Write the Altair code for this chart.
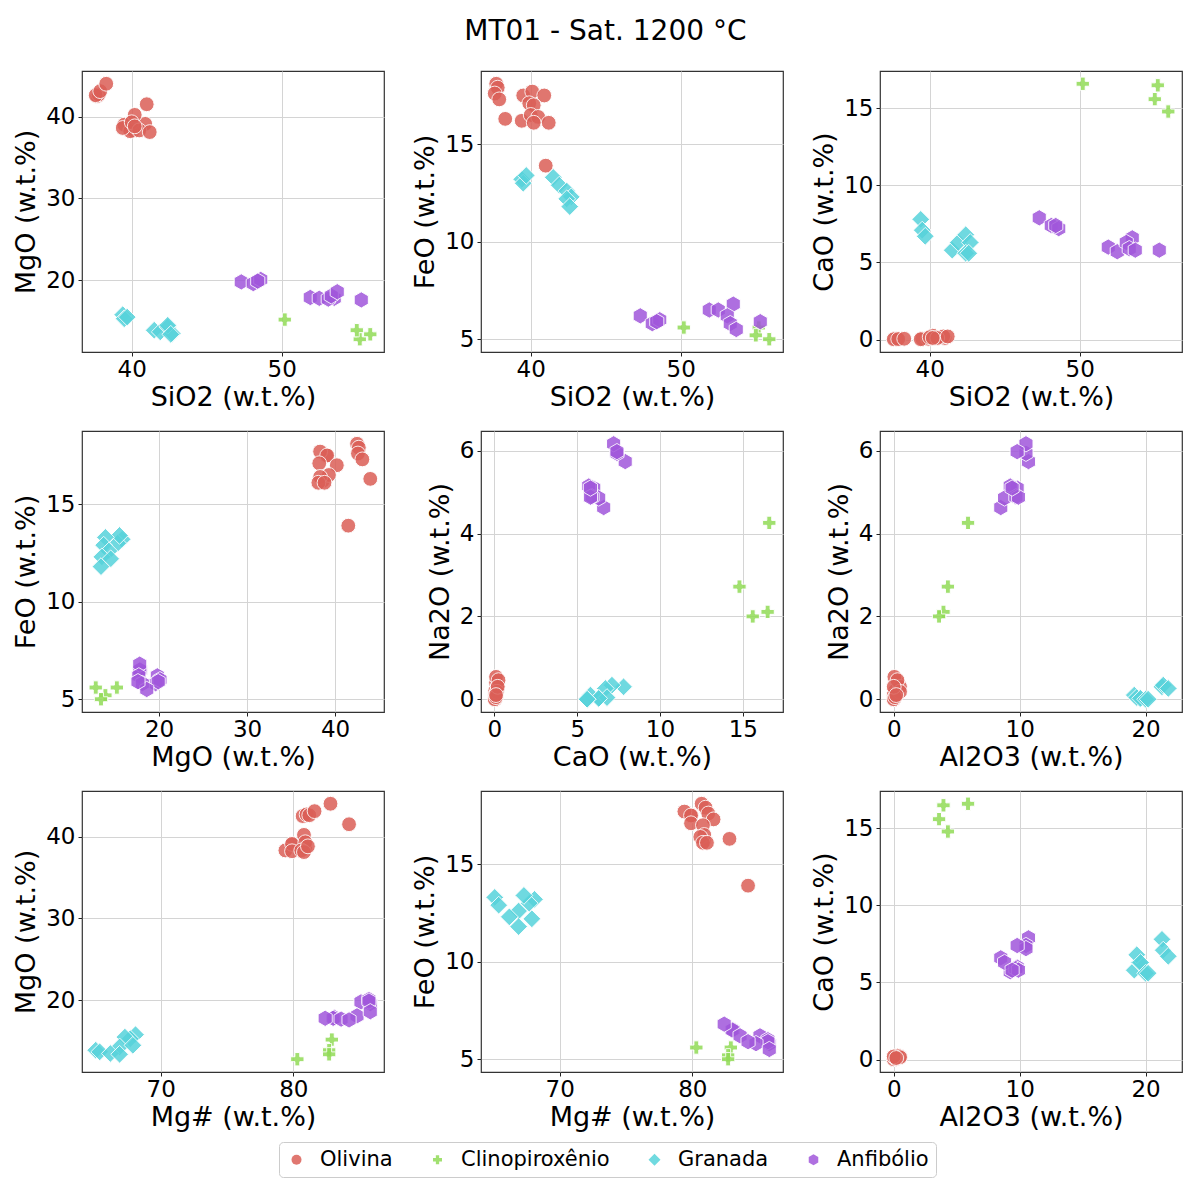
import altair as alt
import pandas as pd

minerals = ["Olivina", "Clinopiroxênio", "Granada", "Anfibólio"]
colors = ["#db5f57", "#91db57", "#57d3db", "#a157db"]

# ---- Olivina ----
ol_SiO2 = [37.7, 37.8, 37.6, 37.9, 38.3, 41.0, 39.5, 40.1, 40.9, 39.9, 40.2, 39.4, 40.0, 40.5, 41.2, 40.2]
ol_MgO = [42.5, 42.7, 42.6, 43.1, 44.0, 41.5, 39.0, 38.3, 39.1, 38.2, 40.2, 38.6, 39.3, 38.3, 38.1, 38.8]
ol_FeO = [18.1, 17.9, 17.6, 17.3, 16.3, 13.9, 17.5, 17.7, 17.5, 17.1, 17.0, 16.2, 16.5, 16.4, 16.1, 16.1]
ol_CaO = [0.05, 0.05, 0.02, 0.03, 0.05, 0.10, 0.05, 0.10, 0.20, 0.05, 0.25, 0.02, 0.15, 0.10, 0.20, 0.10]
ol_Na2O = [0.0, 0.10, 0.02, 0.05, 0.15, 0.40, 0.20, 0.54, 0.30, 0.10, 0.46, 0.0, 0.18, 0.05, 0.30, 0.10]
ol_Al2O3 = [0.0, 0.05, 0.0, 0.02, 0.10, 0.30, 0.10, 0.05, 0.50, 0.0, 0.30, 0.0, 0.50, 0.10, 0.0, 0.20]
ol_MgNum = [80.7, 81.0, 81.2, 81.6, 82.8, 84.2, 79.9, 79.4, 79.9, 79.9, 80.8, 80.9, 80.9, 80.6, 80.8, 81.1]

# ---- Clinopiroxênio ----
cpx_SiO2 = [50.2, 55.2, 55.0, 55.9]
cpx_MgO = [15.2, 12.8, 13.9, 13.4]
cpx_FeO = [5.6, 5.6, 5.2, 5.0]
cpx_CaO = [16.6, 16.5, 15.6, 14.8]
cpx_Na2O = [4.26, 2.11, 2.0, 2.72]
cpx_Al2O3 = [5.9, 3.95, 3.6, 4.3]
cpx_MgNum = [82.9, 80.3, 82.7, 82.7]

# ---- Granada ----
grt_SiO2 = [39.4, 39.5, 39.7, 41.5, 41.9, 42.4, 42.7, 42.4, 42.6]
grt_MgO = [15.8, 15.3, 15.5, 13.9, 13.7, 14.3, 13.5, 14.5, 13.4]
grt_FeO = [13.2, 13.0, 13.4, 13.3, 12.9, 12.6, 12.3, 12.2, 11.8]
grt_CaO = [7.8, 7.1, 6.7, 5.8, 6.3, 6.8, 6.3, 5.6, 5.6]
grt_Na2O = [0.30, 0.34, 0.26, 0.10, 0.02, 0.04, 0.02, 0.0, 0.0]
grt_Al2O3 = [21.3, 21.4, 21.8, 19.1, 19.5, 19.3, 19.6, 20.0, 20.2]
grt_MgNum = [68.1, 67.7, 67.3, 65.1, 65.4, 66.9, 66.2, 67.9, 66.9]

# ---- Anfibólio ----
amp_SiO2 = [47.3, 48.1, 48.6, 48.4, 51.9, 52.5, 53.5, 53.1, 53.3, 53.7, 55.3]
amp_MgO = [19.8, 19.6, 20.1, 19.9, 17.9, 17.8, 17.8, 17.7, 18.1, 18.6, 17.6]
amp_FeO = [6.2, 5.8, 6.0, 5.9, 6.5, 6.5, 6.8, 6.2, 5.8, 5.5, 5.9]
amp_CaO = [7.9, 7.4, 7.2, 7.4, 6.0, 5.7, 6.6, 6.3, 5.9, 5.8, 5.8]
amp_Na2O = [5.74, 5.94, 6.17, 5.98, 5.10, 5.15, 4.63, 4.86, 4.89, 4.88, 5.10]
amp_Al2O3 = [10.7, 10.5, 10.5, 9.8, 9.8, 9.25, 8.5, 8.8, 9.7, 9.9, 9.4]
amp_MgNum = [85.1, 85.8, 85.7, 85.7, 83.1, 83.0, 82.4, 83.6, 84.8, 85.8, 84.2]

groups = [
    ("Olivina", ol_SiO2, ol_MgO, ol_FeO, ol_CaO, ol_Na2O, ol_Al2O3, ol_MgNum),
    ("Clinopiroxênio", cpx_SiO2, cpx_MgO, cpx_FeO, cpx_CaO, cpx_Na2O, cpx_Al2O3, cpx_MgNum),
    ("Granada", grt_SiO2, grt_MgO, grt_FeO, grt_CaO, grt_Na2O, grt_Al2O3, grt_MgNum),
    ("Anfibólio", amp_SiO2, amp_MgO, amp_FeO, amp_CaO, amp_Na2O, amp_Al2O3, amp_MgNum),
]
cols = ["SiO2", "MgO", "FeO", "CaO", "Na2O", "Al2O3", "MgNum"]
rows = []
for g in groups:
    name = g[0]
    for i in range(len(g[1])):
        r = {"Mineral": name}
        for c, arr in zip(cols, g[1:]):
            r[c] = arr[i]
        rows.append(r)
df = pd.DataFrame(rows)

labels = {
    "SiO2": "SiO2 (w.t.%)", "MgO": "MgO (w.t.%)", "FeO": "FeO (w.t.%)",
    "CaO": "CaO (w.t.%)", "Na2O": "Na2O (w.t.%)", "Al2O3": "Al2O3 (w.t.%)",
    "MgNum": "Mg# (w.t.%)",
}
ticks = {
    "SiO2": [40, 50], "MgO": [20, 30, 40], "FeO": [5, 10, 15],
    "CaO": [0, 5, 10, 15], "Na2O": [0, 2, 4, 6], "Al2O3": [0, 10, 20],
    "MgNum": [70, 80],
}


def dom(col):
    lo, hi = float(df[col].min()), float(df[col].max())
    m = 0.05 * (hi - lo)
    return [lo - m, hi + m]


circle = "circle"
plus = ("M-0.33,-0.9L0.33,-0.9L0.33,-0.33L0.9,-0.33L0.9,0.33L0.33,0.33L0.33,0.9"
        "L-0.33,0.9L-0.33,0.33L-0.9,0.33L-0.9,-0.33L-0.33,-0.33Z")
diamond = "M0,-1.2L1.2,0L0,1.2L-1.2,0Z"
hexagon = "M0,-1.1L0.953,-0.55L0.953,0.55L0,1.1L-0.953,0.55L-0.953,-0.55Z"
shapes = [circle, plus, diamond, hexagon]

legend = alt.Legend(orient="none", legendX=197, legendY=1071, direction="horizontal", title=None)

W, H = 302, 281


def panel(xf, yf):
    return alt.Chart(df).mark_point(
        filled=True, size=220, opacity=0.85, stroke="white", strokeWidth=1
    ).encode(
        x=alt.X(f"{xf}:Q", scale=alt.Scale(domain=dom(xf), nice=False, zero=False),
                axis=alt.Axis(values=ticks[xf], title=labels[xf])),
        y=alt.Y(f"{yf}:Q", scale=alt.Scale(domain=dom(yf), nice=False, zero=False),
                axis=alt.Axis(values=ticks[yf], title=labels[yf])),
        color=alt.Color("Mineral:N", scale=alt.Scale(domain=minerals, range=colors), legend=legend),
        shape=alt.Shape("Mineral:N", scale=alt.Scale(domain=minerals, range=shapes), legend=legend),
    ).properties(width=W, height=H)


pairs = [
    ("SiO2", "MgO"), ("SiO2", "FeO"), ("SiO2", "CaO"),
    ("MgO", "FeO"), ("CaO", "Na2O"), ("Al2O3", "Na2O"),
    ("MgNum", "MgO"), ("MgNum", "FeO"), ("Al2O3", "CaO"),
]

chart = alt.concat(
    *[panel(a, b) for a, b in pairs], columns=3,
    spacing={"row": 79, "column": 97},
    bounds="flush",
).resolve_scale(
    x="independent", y="independent", color="shared", shape="shared"
).properties(
    title=alt.TitleParams("MT01 - Sat. 1200 °C", fontSize=28, font="DejaVu Sans",
                          fontWeight="normal", color="black", anchor="middle", dx=8, offset=24),
    padding={"left": 12, "top": 18, "right": 0, "bottom": 0},
).configure_axis(
    labelFont="DejaVu Sans", titleFont="DejaVu Sans", labelFontSize=23, titleFontSize=27,
    titleFontWeight="normal", labelColor="black", titleColor="black",
    gridColor="#d4d4d4", gridWidth=1, domain=False, tickColor="#222222",
    tickSize=4, labelPadding=2, titlePadding=3,
).configure_axisY(titlePadding=5, labelPadding=3).configure_view(
    stroke="#333333", strokeWidth=1.2
).configure_legend(
    labelFont="DejaVu Sans", labelFontSize=21, labelColor="black", symbolSize=100,
    padding=7, cornerRadius=4, strokeColor="#cccccc", fillColor="white",
    labelOffset=13, columnPadding=34, symbolStrokeWidth=0,
)

chart.save("out.html", embed_options={"renderer": "svg", "actions": False})
